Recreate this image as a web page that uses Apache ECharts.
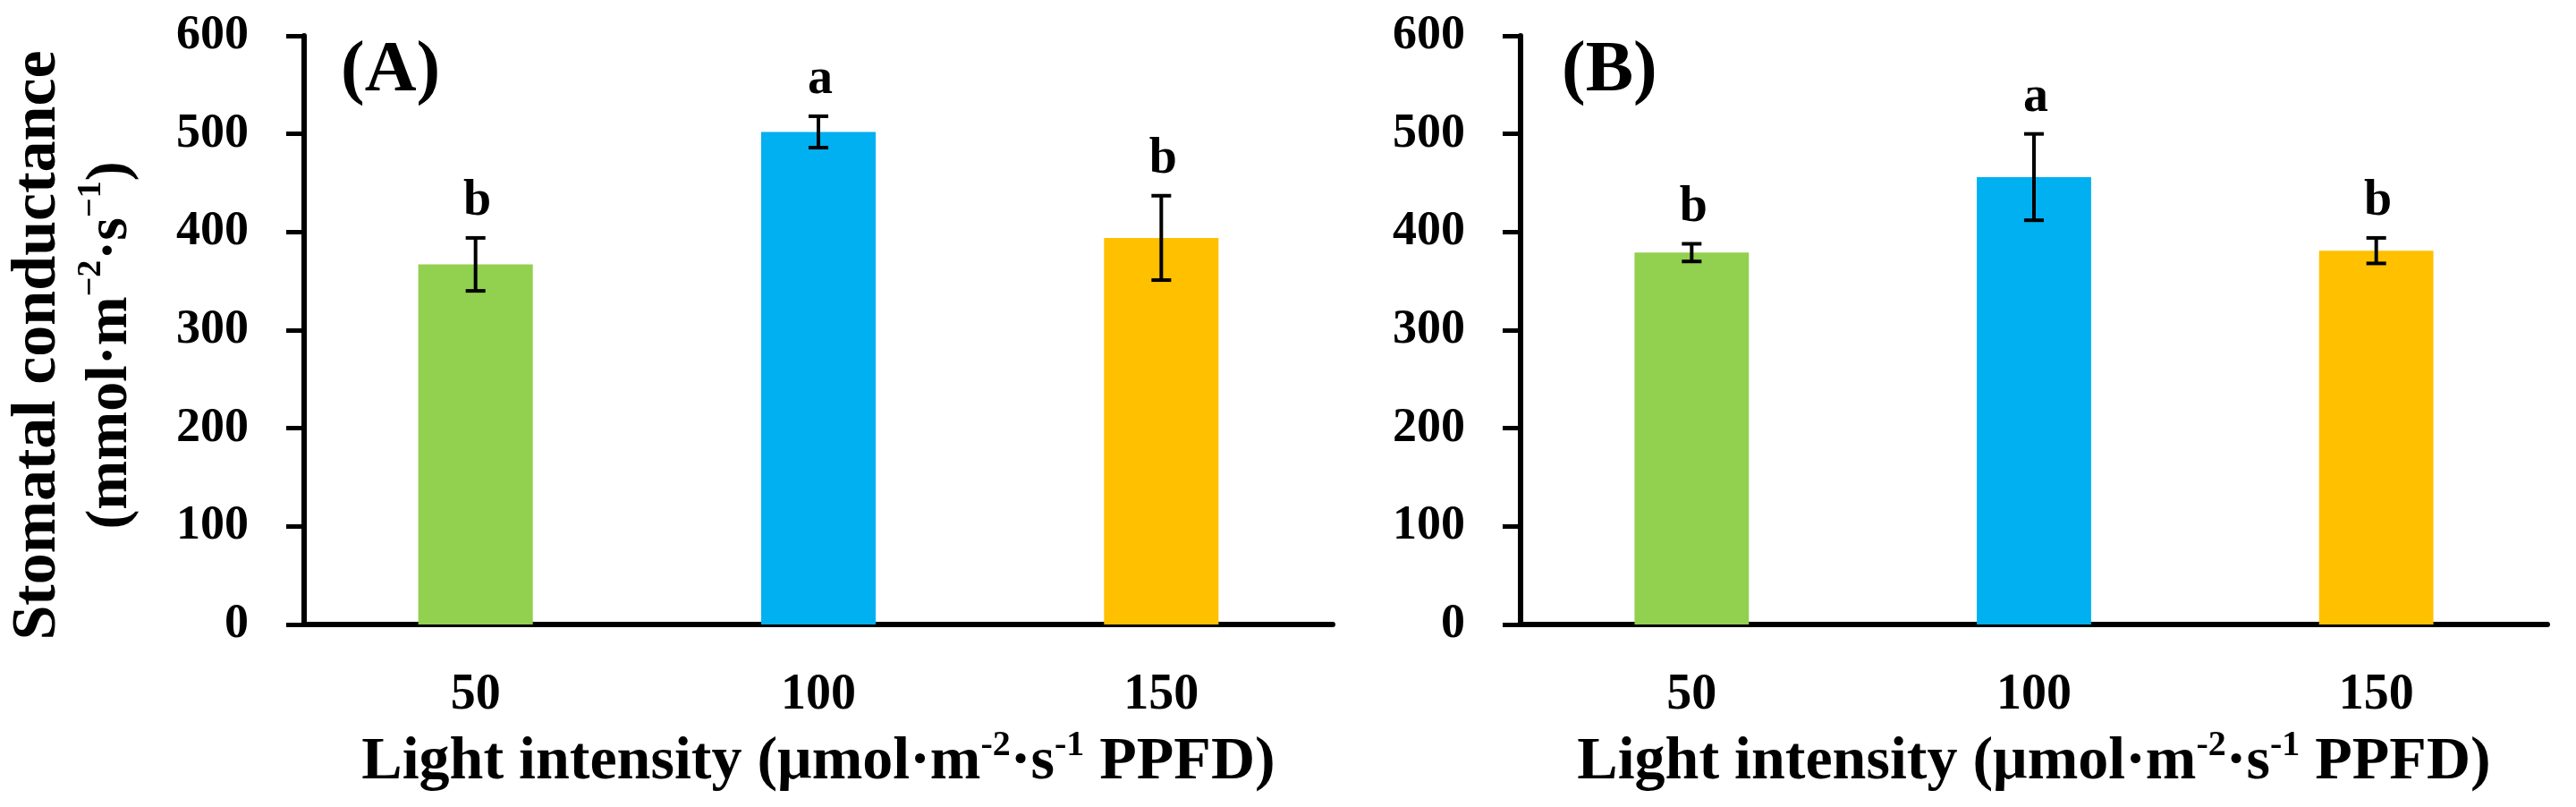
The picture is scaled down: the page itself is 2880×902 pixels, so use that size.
<!DOCTYPE html>
<html>
<head>
<meta charset="utf-8">
<script src="https://cdn.jsdelivr.net/npm/echarts@6/dist/echarts.min.js"></script>
<style>
  html, body { margin: 0; padding: 0; background: #fff; }
  #chart { width: 2880px; height: 902px; }
</style>
</head>
<body>
<div id="chart"></div>
<script>
// ---- data ----
const categories = ['50', '100', '150'];
const yTicks = [0, 100, 200, 300, 400, 500, 600];

const meanA = [367, 502, 394];
const errA = [27, 16, 43];
const lettersA = ['b', 'a', 'b'];

const meanB = [379, 456, 381];
const errB = [9, 44, 13];
const lettersB = ['b', 'a', 'b'];

const panelLabels = ['(A)', '(B)'];

// ---- styles ----
const barColors = ['#92D050', '#00B0F0', '#FFC000'];
const FONT = 'Liberation Serif';

const chart = echarts.init(document.getElementById('chart'), null, { renderer: 'canvas' });

function makeXAxis(gridIndex) {
  return {
    type: 'category',
    gridIndex: gridIndex,
    data: categories,
    axisLine: { show: true, lineStyle: { color: '#000', width: 6 } },
    axisTick: { show: false },
    axisLabel: { margin: 52, fontFamily: FONT, fontWeight: 'bold', fontSize: 56, color: '#000' },
    name: '{t|Light intensity (μmol·m}{s|-2}{t|·s}{s|-1}{t| PPFD)}',
    nameLocation: 'middle',
    nameGap: 116,
    nameTextStyle: {
      rich: {
        t: { fontFamily: FONT, fontWeight: 'bold', fontSize: 68, color: '#000', lineHeight: 76 },
        s: { fontFamily: FONT, fontWeight: 'bold', fontSize: 40, color: '#000', lineHeight: 76, verticalAlign: 'top' }
      }
    }
  };
}

function makeYAxis(gridIndex, withName) {
  const ax = {
    type: 'value',
    gridIndex: gridIndex,
    min: yTicks[0],
    max: yTicks[yTicks.length - 1],
    interval: yTicks[1] - yTicks[0],
    splitLine: { show: false },
    axisLine: { show: true, lineStyle: { color: '#000', width: 6 } },
    axisTick: { show: true, inside: false, length: 20, lineStyle: { color: '#000', width: 5 } },
    axisLabel: { margin: 62, fontFamily: FONT, fontWeight: 'bold', fontSize: 54, color: '#000' }
  };
  if (withName) {
    ax.name = '{t|Stomatal conductance}\n{u|(mmol·m}{s|−2}{u|·s}{s|−1}{u|)}';
    ax.nameLocation = 'middle';
    ax.nameGap = 176;
    ax.nameTextStyle = {
      padding: [0, 34, 0, 0],
      rich: {
        t: { fontFamily: FONT, fontWeight: 'bold', fontSize: 70, color: '#000', lineHeight: 81 },
        u: { fontFamily: FONT, fontWeight: 'bold', fontSize: 66, color: '#000', lineHeight: 81 },
        s: { fontFamily: FONT, fontWeight: 'bold', fontSize: 38, color: '#000', lineHeight: 81, verticalAlign: 'top' }
      }
    };
  }
  return ax;
}

function barSeries(idx, means) {
  return {
    type: 'bar',
    xAxisIndex: idx,
    yAxisIndex: idx,
    barWidth: '33.4%',
    data: means.map((v, i) => ({ value: v, itemStyle: { color: barColors[i] } })),
    silent: true
  };
}

function errSeries(idx, means, errs, letters) {
  return {
    type: 'custom',
    xAxisIndex: idx,
    yAxisIndex: idx,
    silent: true,
    z: 5,
    encode: { x: 0, y: [1, 2] },
    data: means.map((v, i) => [i, v - errs[i], v + errs[i]]),
    renderItem: function (params, api) {
      const x = api.value(0);
      const lo = api.coord([x, api.value(1)]);
      const hi = api.coord([x, api.value(2)]);
      const half = 11;
      const st = { stroke: '#000', lineWidth: 4 };
      return {
        type: 'group',
        children: [
          { type: 'line', shape: { x1: lo[0], y1: lo[1], x2: hi[0], y2: hi[1] }, style: st },
          { type: 'line', shape: { x1: hi[0] - half, y1: hi[1], x2: hi[0] + half, y2: hi[1] }, style: st },
          { type: 'line', shape: { x1: lo[0] - half, y1: lo[1], x2: lo[0] + half, y2: lo[1] }, style: st },
          {
            type: 'text',
            style: {
              text: letters[params.dataIndex],
              x: hi[0] + 2,
              y: hi[1] - 12,
              textAlign: 'center',
              textVerticalAlign: 'bottom',
              fontFamily: FONT,
              fontWeight: 'bold',
              fontSize: 56,
              fill: '#000'
            }
          }
        ]
      };
    }
  };
}

const option = {
  backgroundColor: '#fff',
  animation: false,
  grid: [
    { left: 340, top: 40, width: 1150, height: 658 },
    { left: 1700, top: 40, width: 1148, height: 658 }
  ],
  xAxis: [makeXAxis(0), makeXAxis(1)],
  yAxis: [makeYAxis(0, true), makeYAxis(1, false)],
  series: [
    barSeries(0, meanA),
    errSeries(0, meanA, errA, lettersA),
    barSeries(1, meanB),
    errSeries(1, meanB, errB, lettersB)
  ],
  graphic: [
    { type: 'text', left: 381, top: 40, style: { text: panelLabels[0], fontFamily: FONT, fontWeight: 'bold', fontSize: 80, fill: '#000' } },
    { type: 'text', left: 1746, top: 40, style: { text: panelLabels[1], fontFamily: FONT, fontWeight: 'bold', fontSize: 80, fill: '#000' } }
  ]
};

chart.setOption(option);
</script>
</body>
</html>
